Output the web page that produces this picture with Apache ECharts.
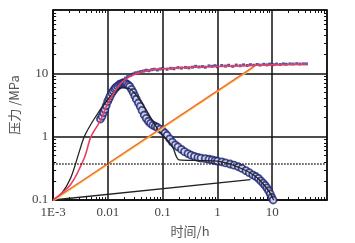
<!DOCTYPE html>
<html>
<head>
<meta charset="utf-8">
<script src="https://cdn.jsdelivr.net/npm/echarts@6/dist/echarts.min.js"></script>
<style>
  html, body { margin: 0; padding: 0; background: #fff; }
  #chart { width: 355px; height: 243px; }
</style>
</head>
<body>
<div id="chart"></div>
<script>
// tick labels, one per decade
var xTickLabels = ['1E-3', '0.01', '0.1', '1', '10', ''];
var yTickLabels = ['0.1', '1', '10', ''];

// measured pressure (circles)
var pressure = [
  [0.0073, 1.9], [0.0078, 2.1], [0.0083, 2.4], [0.0088, 2.7], [0.0093, 3.1],
  [0.0099, 3.6], [0.0105, 4.0], [0.011, 4.4], [0.0118, 4.9], [0.0125, 5.3],
  [0.0133, 5.7], [0.014, 6.0], [0.015, 6.3], [0.016, 6.6], [0.017, 6.8],
  [0.018, 6.9], [0.019, 7.0], [0.02, 7.0], [0.021, 6.9], [0.022, 6.8],
  [0.0235, 6.5], [0.025, 6.2], [0.027, 5.6], [0.029, 5.0], [0.031, 4.4],
  [0.033, 3.9], [0.036, 3.4], [0.039, 3.0], [0.042, 2.6], [0.046, 2.2],
  [0.05, 1.95], [0.055, 1.75], [0.06, 1.62], [0.066, 1.52], [0.073, 1.46],
  [0.08, 1.4], [0.09, 1.32], [0.1, 1.24], [0.11, 1.14], [0.12, 1.05],
  [0.135, 0.92], [0.15, 0.82], [0.17, 0.74], [0.19, 0.69], [0.22, 0.63],
  [0.25, 0.58], [0.29, 0.54], [0.33, 0.51], [0.38, 0.49], [0.44, 0.47],
  [0.5, 0.46], [0.6, 0.45], [0.7, 0.44], [0.8, 0.43], [0.9, 0.42],
  [1.0, 0.41], [1.2, 0.4], [1.4, 0.385], [1.7, 0.37], [2.0, 0.355],
  [2.4, 0.335], [2.8, 0.315], [3.3, 0.29], [3.8, 0.27], [4.4, 0.25],
  [5.0, 0.235], [5.6, 0.22], [6.2, 0.2], [6.8, 0.185], [7.4, 0.17],
  [8.0, 0.155], [8.6, 0.14], [9.2, 0.125], [9.8, 0.11], [10.4, 0.1]
];

// pressure derivative (small markers)
var derivative = [
  [0.0095, 3.6], [0.0105, 4.2], [0.0115, 4.8], [0.0125, 5.4], [0.0135, 5.9],
  [0.0145, 6.3], [0.016, 6.9], [0.0175, 7.4], [0.019, 7.9], [0.021, 8.4],
  [0.023, 8.9], [0.026, 9.3], [0.029, 9.8], [0.032, 10.2], [0.036, 10.4],
  [0.04, 10.7], [0.045, 10.9], [0.05, 11.2], [0.056, 11.0], [0.063, 11.4],
  [0.07, 11.6], [0.08, 11.3], [0.09, 11.7], [0.1, 11.9], [0.12, 11.6],
  [0.14, 12.0], [0.16, 11.8], [0.19, 12.3], [0.22, 12.1], [0.26, 12.4],
  [0.3, 12.2], [0.35, 12.5], [0.4, 12.9], [0.46, 12.6], [0.53, 12.8],
  [0.6, 12.5], [0.7, 13.1], [0.8, 12.9], [0.9, 13.2], [1.0, 12.7],
  [1.2, 13.3], [1.4, 13.0], [1.6, 13.4], [1.9, 12.9], [2.2, 13.5],
  [2.6, 13.2], [3.0, 13.6], [3.5, 13.3], [4.0, 13.7], [4.6, 13.4],
  [5.3, 13.8], [6.0, 13.5], [7.0, 13.9], [8.0, 13.6], [9.0, 14.0],
  [10.5, 13.7], [12, 14.0], [14, 13.8], [16, 14.1], [18, 13.9],
  [21, 14.1], [24, 14.0], [28, 14.2], [32, 14.0], [37, 14.1], [42, 14.1]
];

// model curves
var modelDerivative = [
  [0.001, 0.1], [0.0021, 0.177], [0.0037, 0.46], [0.0049, 1.0], [0.0073, 1.8],
  [0.01, 3.4], [0.015, 6.0], [0.02, 7.8], [0.03, 9.6], [0.046, 10.7],
  [0.06, 11.3], [0.105, 11.8], [0.3, 12.4], [1, 12.8], [3, 13.2],
  [10, 13.6], [42, 14.0]
];
var modelPressure = [
  [0.001, 0.1], [0.0014, 0.124], [0.0021, 0.225], [0.003, 0.58], [0.0037, 1.0],
  [0.0056, 1.9], [0.01, 3.9], [0.015, 5.6], [0.0185, 5.9], [0.025, 5.7],
  [0.04, 3.6], [0.08, 1.34], [0.15, 0.7], [0.2, 0.43], [0.5, 0.42],
  [1, 0.41], [2.6, 0.32], [5.3, 0.225], [8.6, 0.14], [10.6, 0.1]
];
var lineOrange = [[0.001, 0.1], [4.6, 12.8]];
var lineBlack = [[0.001, 0.1], [4.0, 0.21]];
var dottedLevel = 0.37;

// minor tick positions, 2..9 in each decade
function minorTicks(lo, hi) {
  var out = [];
  for (var e = lo; e < hi; e++) {
    for (var k = 2; k <= 9; k++) out.push(k * Math.pow(10, e));
  }
  return out;
}

var chart = echarts.init(document.getElementById('chart'));
var serif = 'Liberation Serif';

function minorAxis(pos, min, max, ticks) {
  return {
    type: 'log', logBase: 10, position: pos, min: min, max: max,
    axisLine: { show: true, lineStyle: { color: '#111', width: 1.5 } },
    axisTick: { show: true, inside: true, length: 3, customValues: ticks, lineStyle: { color: '#111', width: 1 } },
    axisLabel: { show: false },
    splitLine: { show: false }
  };
}

var option = {
  animation: false,
  grid: { left: 52, right: 28, top: 10, bottom: 40 },
  xAxis: [
    {
      type: 'log', logBase: 10, position: 'bottom', min: 0.001, max: 100,
      name: '时间/h', nameLocation: 'middle', nameGap: 25,
      nameTextStyle: { color: '#555', fontSize: 13, fontFamily: 'Noto Sans CJK SC' },
      axisLine: { lineStyle: { color: '#111', width: 1.5 } },
      axisTick: { show: false },
      axisLabel: {
        color: '#444', fontSize: 13, fontFamily: serif, margin: 6,
        formatter: function (v) { return xTickLabels[Math.round(Math.log10(v)) + 3]; }
      },
      splitLine: { show: true, lineStyle: { color: '#111', width: 1.5 } }
    },
    minorAxis('top', 0.001, 100, minorTicks(-3, 2)),
    minorAxis('bottom', 0.001, 100, minorTicks(-3, 2))
  ],
  yAxis: [
    {
      type: 'log', logBase: 10, position: 'left', min: 0.1, max: 100,
      name: '压力 /MPa', nameLocation: 'middle', nameGap: 26, nameRotate: 90,
      nameTextStyle: { color: '#555', fontSize: 13, fontFamily: 'Noto Sans CJK SC' },
      axisLine: { lineStyle: { color: '#111', width: 1.5 } },
      axisTick: { show: false },
      axisLabel: {
        color: '#444', fontSize: 13, fontFamily: serif, margin: 5,
        formatter: function (v) { return yTickLabels[Math.round(Math.log10(v)) + 1]; }
      },
      splitLine: { show: true, lineStyle: { color: '#111', width: 1.5 } }
    },
    minorAxis('right', 0.1, 100, minorTicks(-1, 2)),
    minorAxis('left', 0.1, 100, minorTicks(-1, 2))
  ],
  series: [
    {
      type: 'line', data: lineBlack, symbol: 'none',
      lineStyle: { color: '#222', width: 1.3 },
      markLine: {
        silent: true, symbol: 'none', label: { show: false },
        lineStyle: { color: '#222', type: 'dotted', width: 1.5 },
        data: [{ yAxis: dottedLevel }]
      }
    },
    {
      type: 'line', data: modelPressure, symbol: 'none', smooth: 0.3,
      lineStyle: { color: '#222', width: 1.3 }
    },
    {
      type: 'line', data: lineOrange, symbol: 'none',
      lineStyle: { color: '#f4663f', width: 1.5, shadowColor: '#f7d84a', shadowOffsetY: 1 }
    },
    {
      type: 'scatter', data: derivative, symbol: 'rect', symbolSize: 3,
      itemStyle: { color: '#262a85' }
    },
    {
      type: 'line', data: modelDerivative, symbol: 'none', smooth: 0.3,
      lineStyle: { color: '#ec3d62', width: 1.6 }
    },
    {
      type: 'scatter', data: pressure, symbol: 'circle', symbolSize: 7,
      itemStyle: { color: '#dfe3f2', borderColor: '#1a2070', borderWidth: 1.8 }
    }
  ]
};
chart.setOption(option);
</script>
</body>
</html>
